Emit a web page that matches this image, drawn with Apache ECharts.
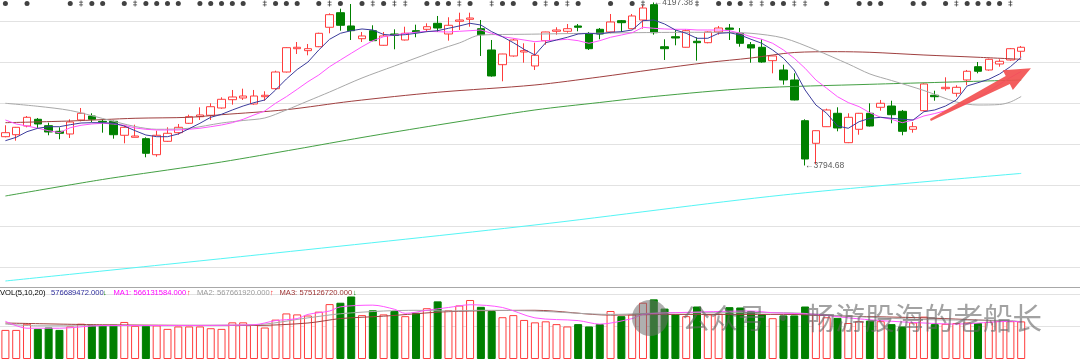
<!DOCTYPE html>
<html><head><meta charset="utf-8">
<script src="https://cdn.jsdelivr.net/npm/echarts@6/dist/echarts.min.js"></script>
<style>html,body{margin:0;padding:0;background:#fff;overflow:hidden}#c{width:1080px;height:361px}</style>
</head><body><div id="c"></div>
<script>
// ---------- DATA ----------
const days = Array.from({length:95},(_,i)=>'D'+(i+1));
// [open, close, low, high]
const ohlc = [
[3865.8,3875.7,3864.3,3894.0],[3870.7,3889.0,3855.9,3889.8],[3892.2,3913.7,3889.0,3916.9],[3908.8,3897.2,3887.3,3912.0],
[3893.0,3877.4,3869.3,3900.4],[3879.1,3874.2,3859.4,3889.0],[3872.5,3902.1,3862.6,3908.8],[3907.1,3923.6,3903.8,3936.7],
[3916.9,3908.8,3902.1,3923.6],[3903.8,3902.1,3875.7,3908.8],[3903.8,3870.7,3860.9,3905.3],[3869.3,3889.0,3849.5,3894.0],
[3864.3,3867.5,3864.0,3895.4],[3860.9,3824.8,3814.9,3864.3],[3821.3,3869.3,3816.4,3880.6],[3854.4,3874.2,3853.0,3889.0],
[3875.7,3889.0,3870.7,3897.2],[3898.9,3915.2,3897.2,3920.1],[3915.2,3919.4,3907.1,3938.4],[3918.7,3939.9,3907.1,3948.3],
[3936.7,3958.2,3935.0,3963.1],[3957.2,3963.9,3944.9,3981.2],[3961.4,3966.3,3956.5,3984.4],[3946.6,3966.3,3944.9,3981.2],
[3964.6,3968.1,3954.7,3978.0],[3984.4,4025.6,3981.2,4028.8],[4025.6,4085.7,4024.4,4086.7],[4083.2,4086.7,4070.1,4099.7],
[4078.3,4083.2,4066.9,4094.8],[4088.1,4121.2,4087.0,4122.7],[4136.1,4167.2,4121.2,4170.6],[4172.1,4141.0,4127.7,4182.0],
[4139.3,4127.7,4104.7,4193.6],[4107.9,4114.6,4099.7,4124.5],[4127.7,4103.0,4101.5,4141.0],[4091.6,4114.6,4090.5,4124.5],
[4119.5,4116.3,4081.7,4131.1],[4104.7,4121.2,4103.5,4137.5],[4127.7,4124.5,4111.4,4142.5],[4131.1,4137.5,4124.5,4145.9],
[4145.9,4134.3,4124.5,4164.0],[4119.5,4141.0,4103.0,4160.8],[4150.9,4154.1,4129.4,4172.1],[4155.8,4159.0,4137.5,4172.1],
[4132.6,4117.8,4065.2,4154.1],[4080.0,4015.8,4014.0,4104.7],[4043.7,4070.1,4002.7,4070.6],[4065.2,4104.7,4063.4,4107.9],
[4075.0,4078.3,4048.6,4096.5],[4040.5,4066.9,4030.6,4098.0],[4103.0,4124.5,4093.1,4125.0],[4126.2,4129.4,4117.8,4136.1],
[4126.2,4132.6,4122.7,4144.2],[4139.3,4136.1,4126.2,4144.2],[4119.5,4083.2,4080.0,4124.5],[4131.1,4119.5,4106.4,4134.3],
[4124.5,4149.2,4121.2,4168.9],[4152.4,4147.4,4124.5,4154.1],[4132.6,4164.0,4132.0,4168.9],[4154.1,4183.7,4132.6,4190.4],
[4191.9,4122.7,4117.8,4197.38],[4088.1,4083.2,4055.3,4106.4],[4112.8,4109.6,4091.6,4129.4],[4086.7,4127.7,4086.0,4131.1],
[4101.5,4098.0,4053.6,4111.4],[4098.0,4124.5,4096.5,4126.2],[4124.5,4134.3,4117.8,4139.3],[4134.3,4131.1,4104.7,4144.2],
[4121.2,4096.5,4088.1,4134.3],[4093.1,4084.9,4048.6,4099.7],[4086.7,4050.3,4048.6,4106.4],[4053.6,4065.2,4022.4,4066.0],
[4030.6,4005.9,3994.3,4043.7],[4005.9,3956.5,3955.5,4022.4],[3905.3,3810.7,3794.68,3908.8],[3849.5,3880.6,3798.4,3881.5],
[3890.5,3931.8,3890.0,3935.0],[3923.6,3887.3,3879.1,3938.4],[3851.0,3913.7,3850.0,3923.6],[3884.1,3923.6,3870.7,3924.5],
[3923.6,3892.2,3891.0,3948.3],[3938.4,3948.3,3930.0,3956.5],[3941.6,3920.1,3898.9,3954.7],[3928.5,3879.1,3869.3,3931.8],
[3884.1,3890.5,3875.7,3902.1],[3930.0,3996.0,3928.5,3997.7],[3968.1,3964.6,3954.7,3979.4],[3984.4,3987.8,3979.4,4012.5],
[3973.0,3987.8,3964.6,3992.8],[4005.9,4027.4,3992.8,4030.6],[4038.7,4027.4,4022.4,4050.3],[4030.6,4057.0,4028.8,4058.5],
[4045.4,4052.1,4038.7,4057.0],[4055.3,4083.2,4053.6,4084.9],[4076.8,4086.7,4062.0,4089.9]
];
const ma5 = [3855.9,3864.3,3878.2,3886.6,3890.5,3890.5,3895.4,3899.6,3900.4,3900.4,3898.9,3892.2,3880.6,3870.0,3865.8,3865.8,3872.5,3885.6,3898.9,3913.7,
3921.1,3931.8,3941.6,3949.8,3956.5,3981.2,4008.3,4031.8,4050.3,4080.0,4106.4,4121.2,4127.7,4131.9,4129.4,4118.3,4116.3,4117.8,4121.2,4125.2,
4127.7,4133.6,4139.3,4145.9,4141.7,4125.2,4112.8,4098.0,4081.7,4067.6,4098.0,4104.7,4111.4,4119.5,4121.2,4119.5,4123.7,4125.2,4129.4,4152.4,
4154.1,4144.2,4129.4,4121.2,4108.9,4108.9,4121.2,4122.7,4117.0,4106.4,4096.5,4080.0,4059.5,4030.6,3981.2,3944.1,3923.6,3892.2,3886.6,3902.9,
3911.3,3913.7,3911.3,3908.8,3907.1,3927.6,3931.8,3941.6,3956.5,3991.1,3999.2,4007.6,4020.7,4038.7,4062.0];
const ma10 = [3907.1,3897.2,3892.2,3886.6,3880.6,3875.7,3888.0,3894.0,3897.2,3898.9,3897.2,3894.0,3887.3,3884.1,3882.4,3882.4,3882.4,3884.1,3886.6,3890.5,
3894.7,3900.4,3908.8,3919.4,3929.3,3948.3,3964.6,3982.9,4001.7,4018.2,4038.7,4055.3,4071.8,4088.1,4103.0,4112.8,4117.0,4121.2,4123.7,4126.2,
4125.2,4124.5,4126.2,4127.7,4129.4,4121.2,4112.8,4108.9,4104.7,4100.5,4103.0,4104.7,4106.4,4103.0,4096.5,4103.0,4111.4,4117.0,4122.7,4136.1,
4133.6,4131.9,4131.1,4131.1,4129.4,4129.4,4129.4,4127.7,4121.2,4112.8,4106.4,4096.5,4080.0,4059.5,4034.8,4005.9,3985.4,3964.6,3950.0,3940.0,
3925.0,3913.7,3908.8,3900.4,3907.1,3917.0,3923.0,3930.0,3938.0,3949.0,3962.0,3978.0,3995.0,4012.0,4027.0];
// sparse readings [index, value]
const ma20 = [[0,3948.3],[3,3940.9],[6,3930.5],[9,3910.8],[12,3891.0],[14,3884.1],[17,3886.6],[20,3899.6],[22,3905.8],[24,3912.0],[26,3931.8],[28,3954.0],[30,3976.2],[33,4010.8],[36,4040.5],[38,4060.2],[40,4080.0],[42,4097.3],[44,4117.0],[48,4118.8],[54,4121.2],[60,4123.2],[66,4123.7],[69,4121.2],[72,4109.6],[75,4080.0],[78,4045.4],[80,4020.7],[82,4004.6],[85,3979.9],[88,3951.5],[90,3944.1],[92,3945.3],[93,3951.5],[94,3965.1]];
const ma60 = [[0,3900.4],[6,3904.6],[12,3911.3],[17,3913.7],[20,3920.1],[26,3932.5],[32,3953.3],[40,3975.5],[49,3993.5],[55,4013.3],[60,4031.8],[65,4049.1],[69,4060.2],[73,4073.8],[77,4075.8],[80,4074.3],[85,4067.6],[90,4062.0],[94,4057.0]];
const ma120 = [[0,3719.3],[9,3760.1],[15,3783.5],[20,3803.3],[27,3835.4],[33,3863.8],[40,3894.7],[49,3931.8],[55,3950.3],[60,3965.1],[69,3985.4],[80,3995.2],[86,3999.7],[94,4005.9]];
const ma250 = [[0,3509.3],[25,3578.5],[49,3647.7],[72,3721.8],[94,3775.1]];
// volume, millions of shares
const volume = [446,446,541,462,483,446,499,541,525,514,525,568,509,509,514,462,499,499,499,472,
462,562,562,525,483,604,699,684,667,726,842,863,959,673,747,684,736,657,710,779,
884,747,821,905,800,736,641,673,599,562,578,535,499,535,499,535,736,657,684,863,
915,773,684,657,805,684,694,795,790,736,684,626,668,668,805,684,640,631,552,580,
589,580,535,499,560,650,535,540,552,560,552,570,589,580,576.689];
const volMa5 = [[0,578],[2,472],[5,472],[9,514],[15,514],[23,525],[25,589],[27,620],[28,684],[30,736],[31,800],[34,826],[36,763],[37,700],[39,747],[41,790],[43,832],[46,790],[49,631],[53,589],[55,535],[58,620],[59,684],[62,710],[69,736],[71,710],[75,684],[78,631],[81,589],[85,552],[88,535],[93,578],[94,566.1]];
const volMa10 = [[0,535],[3,509],[23,525],[28,631],[31,694],[35,736],[38,747],[41,736],[44,747],[49,736],[56,684],[62,710],[72,710],[78,657],[85,605],[93,589],[94,567.7]];
const volMa20 = [[0,552],[9,525],[23,514],[28,552],[31,620],[35,657],[41,726],[49,747],[56,673],[62,684],[72,684],[78,657],[85,631],[93,578],[94,575.1]];
// event markers on top row: [index, kind] kind 0 dot, 1 double mark
const markers = [[0,0],[2,0],[6,0],[7,1],[8,0],[9,0],[11,0],[12,1],[13,0],[14,0],[15,0],[16,0],[18,0],[19,0],
[20,0],[21,0],[22,0],[24,1],[25,0],[26,0],[27,0],[29,0],[30,1],[31,0],[33,0],[34,1],[35,0],[36,1],[37,1],[39,0],
[40,0],[41,0],[42,1],[43,0],[45,1],[46,0],[47,0],[49,0],[50,1],[51,0],[52,1],[53,0],[56,0],[58,0],[59,1],
[64,1],[66,0],[67,0],[68,0],[69,1],[70,1],[71,0],[72,0],[73,1],[74,1],[76,0],[79,0],
[80,0],[81,0],[84,0],[85,0],[87,0],[88,1],[89,0],[90,0],[91,0],[92,0],[93,1]];
const volHeader = [
  ['VOL(5,10,20)','#000000'],['576689472.000','#2c2c9c'],['↓','#008000'],
  ['MA1:','#ff00ff'],['566131584.000','#ff00ff'],['↑','#ff2020'],
  ['MA2:','#9a9a9a'],['567661920.000','#9a9a9a'],['↑','#ff2020'],
  ['MA3:','#9c3030'],['575126720.000','#9c3030'],['↓','#008000']];
const arrowFrom = [85.6, 3907], arrowTo = [94.9, 4035];
// ---------- LAYOUT ----------
const GL = -1.4, GW = 1028;
const PMIN = 3542.4, PMAX = 4151.6;
const UP = '#ff3c3c', DOWN = '#008000';
const chart = echarts.init(document.getElementById('c'));
const isUp = ohlc.map((d,i)=> d[1] > d[0] || (d[1] === d[0] && i>0 && d[1] >= ohlc[i-1][1]));
let hiIdx = 0, loIdx = 0;
ohlc.forEach((d,i)=>{ if(d[3]>ohlc[hiIdx][3]) hiIdx=i; if(d[2]<ohlc[loIdx][2]) loIdx=i; });
const lineS = (data,color,xi,yi,z,smooth)=>({type:'line',data,xAxisIndex:xi,yAxisIndex:yi,showSymbol:false,symbol:'none',clip:false,smooth:smooth||false,
  lineStyle:{color,width:1},z:z||3,silent:true,animation:false});
const hdrX = [0,51,103,113.5,133.5,187,197,217,270,279.5,299.5,353];
const extremeLabel = {show:true,position:'right',distance:0,color:'#333',fontSize:8.5,fontFamily:'Liberation Sans',formatter:p=>'←'+p.value[1].toFixed(2)};
const option = {
  animation:false,
  backgroundColor:'#ffffff',
  grid:[
    {left:GL,width:GW,top:21,height:246.6},
    {left:GL,width:GW,top:293.8,height:65.2},
    {left:0,right:0,top:21,height:246.6},
    {left:0,right:0,top:293.8,height:65.2},
    {left:GL,width:GW,top:0,height:7}
  ],
  xAxis:[
    {type:'category',gridIndex:0,data:days,show:false},
    {type:'category',gridIndex:1,data:days,show:false},
    {type:'value',gridIndex:2,min:0,max:1,show:false},
    {type:'value',gridIndex:3,min:0,max:1,show:false},
    {type:'category',gridIndex:4,data:days,show:false}
  ],
  yAxis:[
    {type:'value',gridIndex:0,min:PMIN,max:PMAX,show:false,splitLine:{show:false}},
    {type:'value',gridIndex:1,min:0,max:1000,show:false,splitLine:{show:false}},
    {type:'value',gridIndex:2,min:0,max:6,interval:1,axisLine:{show:false},axisTick:{show:false},axisLabel:{show:false},
      splitLine:{show:true,lineStyle:{color:'#e2e2e2',width:1}}},
    {type:'value',gridIndex:3,min:0,max:2,interval:1,axisLine:{show:false},axisTick:{show:false},axisLabel:{show:false},
      splitLine:{show:true,showMinLine:false,lineStyle:{color:'#e2e2e2',width:1}}},
    {type:'value',gridIndex:4,min:0,max:1,show:false}
  ],
  series:[
    {type:'line',xAxisIndex:2,yAxisIndex:2,data:[],silent:true},
    {type:'line',xAxisIndex:3,yAxisIndex:3,data:[],silent:true},
    {type:'candlestick',xAxisIndex:0,yAxisIndex:0,data:ohlc,barWidth:8,clip:false,z:2,
      itemStyle:{color:'#ffffff',color0:DOWN,borderColor:UP,borderColor0:DOWN,borderWidth:1}},
    {type:'scatter',xAxisIndex:0,yAxisIndex:0,clip:false,symbolSize:0,z:6,silent:true,label:extremeLabel,
      data:[[hiIdx,ohlc[hiIdx][3]],[loIdx,ohlc[loIdx][2]]]},
    lineS(ma250,'#55f5f5',0,0,3,0.3),
    lineS(ma120,'#44a044',0,0,3,0.3),
    lineS(ma60,'#a04040',0,0,3,0.3),
    lineS(ma20,'#a8a8a8',0,0,3,0.3),
    lineS(ma10,'#ff55ff',0,0,3),
    lineS(ma5,'#3c3c9c',0,0,3),
    {type:'bar',xAxisIndex:1,yAxisIndex:1,barWidth:8,z:2,
      data:volume.map((v,i)=>({value:v,itemStyle: isUp[i]?{color:'#ffffff',borderColor:UP,borderWidth:1}:{color:DOWN,borderColor:DOWN,borderWidth:1}}))},
    lineS(volMa20,'#a04040',1,1,3,0.3),
    lineS(volMa10,'#a8a8a8',1,1,3,0.3),
    lineS(volMa5,'#ff55ff',1,1,3,0.3),
    {type:'scatter',xAxisIndex:4,yAxisIndex:4,z:4,
      data:markers.map(m=>({value:[m[0],0.5],symbol:m[1]?'path://M2,0 L3,0 L3,10 L2,10 Z M0,2 L5,2 L5,3.5 L0,3.5 Z M0,6.5 L5,6.5 L5,8 L0,8 Z':'circle',
        symbolSize:m[1]?[4,6]:5})),itemStyle:{color:'#111'}}
  ],
  graphic:[
    {id:'sep',type:'line',shape:{x1:0,y1:287.5,x2:1080,y2:287.5},style:{stroke:'#a8a8a8',lineWidth:1},z:10},
    ...volHeader.map((h,i)=>({id:'hdr'+i,type:'text',x:hdrX[i],y:292.5,z:20,
      style:{text:h[0],fill:h[1],font:'7.6px "Liberation Sans"',textVerticalAlign:'middle'}})),
    {id:'wmIcon',type:'circle',shape:{cx:650,cy:318,r:18},style:{fill:'rgba(110,110,110,0.55)'},z:30},
    {id:'wm1',type:'text',x:682,y:318,z:30,style:{text:'公众号',fill:'rgba(100,100,100,0.6)',font:'28px "Noto Sans CJK SC"',textVerticalAlign:'middle'}},
    {id:'wm2',type:'text',x:769,y:318,z:30,style:{text:'·',fill:'rgba(100,100,100,0.6)',font:'28px "Noto Sans CJK SC"',textVerticalAlign:'middle'}},
    {id:'wm3',type:'text',x:806,y:318,z:30,style:{text:'畅游股海的老船长',fill:'rgba(100,100,100,0.6)',font:'29.5px "Noto Sans CJK SC"',textVerticalAlign:'middle'}}
  ]
};
chart.setOption(option);
// red trend arrow placed in data coordinates (fractional category positions)
function toPx(pt){
  const i0 = Math.min(Math.floor(pt[0]), 93);
  const p0 = chart.convertToPixel({gridIndex:0},[i0,pt[1]]);
  const p1 = chart.convertToPixel({gridIndex:0},[i0+1,pt[1]]);
  return [p0[0]+(pt[0]-i0)*(p1[0]-p0[0]), p0[1]];
}
const a = toPx(arrowFrom), b = toPx(arrowTo);
const dx=b[0]-a[0], dy=b[1]-a[1], L=Math.hypot(dx,dy), ux=dx/L, uy=dy/L, nx=-uy, ny=ux;
const hl=26, hb=[b[0]-ux*hl, b[1]-uy*hl];
const P=(p,w)=>[p[0]+nx*w,p[1]+ny*w];
const pts=[P(a,1),P(hb,4.5),P(hb,11),b,P(hb,-11),P(hb,-4.5),P(a,-1)];
chart.setOption({graphic:[{id:'trendArrow',type:'polygon',shape:{points:pts},style:{fill:'rgba(242,80,80,0.92)'},z:40}]});
</script></body></html>
